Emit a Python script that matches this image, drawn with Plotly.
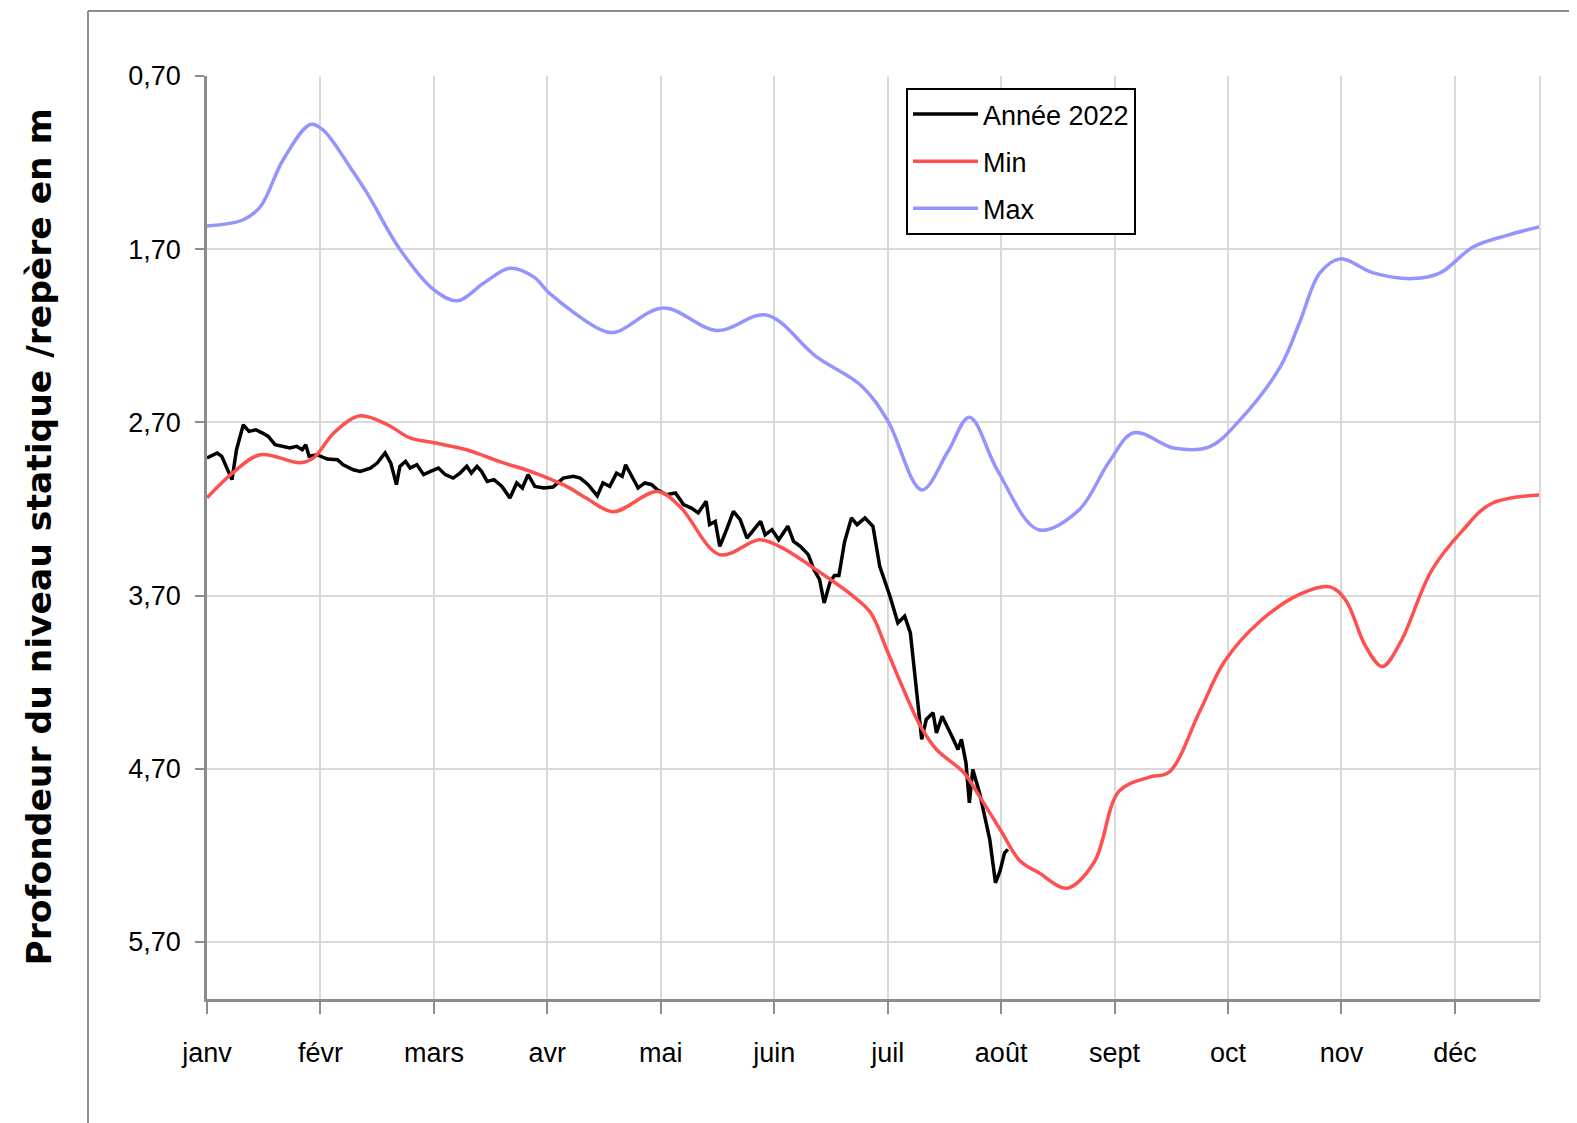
import plotly.graph_objects as go

# ---------------- data (x in month units: 0 = 1 janv, 1 = 1 févr, ...) ----------------
months = ["janv", "févr", "mars", "avr", "mai", "juin", "juil", "août", "sept", "oct", "nov", "déc"]
month_pos = list(range(12))

depth_ticks = [0.70, 1.70, 2.70, 3.70, 4.70, 5.70]
depth_labels = ["0,70", "1,70", "2,70", "3,70", "4,70", "5,70"]

t_2022 = [0.00, 0.09, 0.13, 0.19, 0.22, 0.26, 0.32, 0.37, 0.43, 0.49, 0.54, 0.60, 0.68, 0.73,
          0.79, 0.84, 0.87, 0.90, 0.97, 1.06, 1.15, 1.20, 1.29, 1.35, 1.44, 1.50, 1.57, 1.62,
          1.67, 1.70, 1.75, 1.79, 1.85, 1.91, 1.97, 2.04, 2.10, 2.17, 2.23, 2.29, 2.33, 2.38,
          2.42, 2.47, 2.53, 2.60, 2.67, 2.73, 2.78, 2.83, 2.89, 2.97, 3.05, 3.14, 3.23, 3.29,
          3.36, 3.44, 3.49, 3.55, 3.61, 3.66, 3.69, 3.74, 3.80, 3.86, 3.92, 3.97, 4.05, 4.13,
          4.20, 4.27, 4.33, 4.40, 4.43, 4.48, 4.52, 4.58, 4.64, 4.70, 4.76, 4.82, 4.88, 4.92,
          4.98, 5.04, 5.12, 5.17, 5.23, 5.30, 5.35, 5.40, 5.44, 5.49, 5.53, 5.57, 5.62, 5.68,
          5.73, 5.80, 5.87, 5.93, 6.02, 6.09, 6.15, 6.20, 6.26, 6.30, 6.34, 6.40, 6.43, 6.48,
          6.58, 6.62, 6.65, 6.69, 6.72, 6.75, 6.81, 6.90, 6.95, 6.99, 7.03, 7.06]
depth_2022 = [2.906, 2.877, 2.896, 2.983, 3.031, 2.858, 2.714, 2.752, 2.743, 2.762, 2.781, 2.829,
              2.839, 2.848, 2.839, 2.858, 2.829, 2.896, 2.887, 2.912, 2.916, 2.945, 2.974, 2.983,
              2.964, 2.935, 2.877, 2.935, 3.060, 2.954, 2.925, 2.964, 2.945, 3.002, 2.983, 2.964,
              3.002, 3.022, 2.993, 2.954, 2.993, 2.954, 2.983, 3.041, 3.031, 3.070, 3.137, 3.050,
              3.079, 3.002, 3.070, 3.079, 3.074, 3.022, 3.012, 3.022, 3.060, 3.125, 3.050, 3.070,
              2.993, 3.012, 2.945, 3.002, 3.079, 3.050, 3.060, 3.089, 3.118, 3.108, 3.175, 3.195,
              3.223, 3.156, 3.290, 3.272, 3.416, 3.320, 3.214, 3.262, 3.368, 3.320, 3.272, 3.350,
              3.320, 3.378, 3.300, 3.387, 3.416, 3.464, 3.550, 3.608, 3.743, 3.627, 3.585, 3.585,
              3.390, 3.252, 3.291, 3.252, 3.300, 3.531, 3.704, 3.858, 3.820, 3.916, 4.300, 4.531,
              4.416, 4.377, 4.493, 4.397, 4.531, 4.589, 4.531, 4.666, 4.897, 4.705, 4.840, 5.109,
              5.359, 5.292, 5.186, 5.166]

t_min = [0.00, 0.23, 0.47, 0.82, 0.94, 1.12, 1.35, 1.59, 1.79, 2.00, 2.29, 2.58, 2.88, 3.17,
         3.35, 3.58, 3.97, 4.17, 4.52, 4.87, 5.05, 5.40, 5.70, 5.85, 5.99, 6.14, 6.29, 6.43,
         6.67, 6.81, 6.99, 7.17, 7.33, 7.58, 7.82, 8.04, 8.30, 8.48, 8.75, 8.97, 9.28, 9.64,
         9.90, 10.04, 10.21, 10.36, 10.52, 10.79, 11.06, 11.32, 11.75]
depth_min = [3.135, 2.990, 2.887, 2.933, 2.905, 2.760, 2.662, 2.714, 2.790, 2.818, 2.858, 2.927,
             2.990, 3.070, 3.140, 3.216, 3.100, 3.187, 3.464, 3.378, 3.418, 3.565, 3.706, 3.800,
             4.010, 4.243, 4.456, 4.589, 4.722, 4.860, 5.050, 5.235, 5.300, 5.390, 5.240, 4.830,
             4.750, 4.720, 4.370, 4.080, 3.850, 3.690, 3.650, 3.730, 3.990, 4.110, 3.970, 3.560,
             3.330, 3.170, 3.120]

t_max = [0.00, 0.32, 0.47, 0.67, 0.91, 1.02, 1.26, 1.41, 1.70, 2.00, 2.21, 2.44, 2.67, 2.88,
         3.02, 3.47, 3.60, 4.02, 4.50, 4.93, 5.37, 5.77, 6.00, 6.30, 6.53, 6.72, 6.97, 7.33,
         7.68, 7.95, 8.17, 8.53, 8.84, 9.10, 9.46, 9.63, 9.81, 9.99, 10.28, 10.63, 10.87, 11.16,
         11.46, 11.75]
depth_max = [1.566, 1.530, 1.455, 1.185, 0.980, 1.010, 1.225, 1.375, 1.700, 1.935, 1.998, 1.895,
             1.810, 1.860, 1.955, 2.165, 2.180, 2.040, 2.170, 2.080, 2.320, 2.490, 2.690, 3.090,
             2.870, 2.670, 2.980, 3.320, 3.210, 2.930, 2.760, 2.850, 2.840, 2.690, 2.380, 2.125,
             1.837, 1.756, 1.837, 1.870, 1.837, 1.687, 1.620, 1.570]

# ---------------- figure ----------------
W, H = 1577, 1123
L, R, T, B = 199, 45, 68, 132
tick_font = dict(family="Liberation Sans Narrow, Arial Narrow, Liberation Sans, sans-serif",
                 size=27, color="#000000")

fig = go.Figure()
fig.add_trace(go.Scatter(x=t_2022, y=depth_2022, mode="lines", name="Année 2022",
                         legendgroup="a", line=dict(color="#000000", width=3.5)))
fig.add_trace(go.Scatter(x=t_min, y=depth_min, mode="lines", name="Min", legendgroup="b",
                         line=dict(color="#ff5050", width=3.5, shape="spline", smoothing=1.0)))
fig.add_trace(go.Scatter(x=t_max, y=depth_max, mode="lines", name="Max", legendgroup="c",
                         line=dict(color="#9494ff", width=3.5, shape="spline", smoothing=1.0)))

pw = W - L - R
ph = H - T - B

fig.update_layout(
    width=W, height=H,
    margin=dict(l=L, r=R, t=T, b=B, pad=0),
    paper_bgcolor="white", plot_bgcolor="white",
    font=tick_font,
    showlegend=True,
    legend=dict(x=(898 - L) / pw, y=(H - B - 80) / ph, xanchor="left", yanchor="top",
                bordercolor="#000000", borderwidth=2, bgcolor="white",
                font=tick_font, tracegroupgap=9, itemwidth=65),
    xaxis=dict(range=[0, 11.75], tickmode="array", tickvals=month_pos, ticktext=months,
               showgrid=True, gridcolor="#d9d9d9", gridwidth=1.5,
               showline=True, linecolor="#8c8c8c", linewidth=2.5,
               ticks="outside", ticklen=12, tickwidth=2, tickcolor="#8c8c8c",
               ticklabelstandoff=16, zeroline=False, tickfont=tick_font),
    yaxis=dict(range=[6.03, 0.70], tickmode="array", tickvals=depth_ticks, ticktext=depth_labels,
               showgrid=True, gridcolor="#d9d9d9", gridwidth=1.5,
               showline=True, linecolor="#8c8c8c", linewidth=2.5,
               ticks="outside", ticklen=9, tickwidth=2, tickcolor="#8c8c8c",
               ticklabelstandoff=9, zeroline=False, tickfont=tick_font),
    annotations=[dict(text="<b>Profondeur du niveau statique /repère en m</b>",
                      xref="paper", yref="paper", x=(30 - L) / pw, y=0.5,
                      xanchor="center", yanchor="middle", textangle=-90, showarrow=False,
                      font=dict(family="DejaVu Sans, Verdana, sans-serif", size=34.5,
                                color="#000000"))],
    shapes=[
        # outer chart-area frame (left and top edges visible)
        dict(type="line", xref="paper", yref="paper", x0=(80 - L) / pw, x1=(80 - L) / pw,
             y0=(H - B - 3) / ph, y1=-0.3, line=dict(color="#8c8c8c", width=2)),
        dict(type="line", xref="paper", yref="paper", x0=(80 - L) / pw, x1=1.2,
             y0=(H - B - 3) / ph, y1=(H - B - 3) / ph, line=dict(color="#8c8c8c", width=2)),
        # right edge of the plot area
        dict(type="line", xref="paper", yref="paper", x0=1, x1=1, y0=0, y1=1,
             line=dict(color="#d9d9d9", width=2)),
    ],
)

fig.write_html("out.html")
